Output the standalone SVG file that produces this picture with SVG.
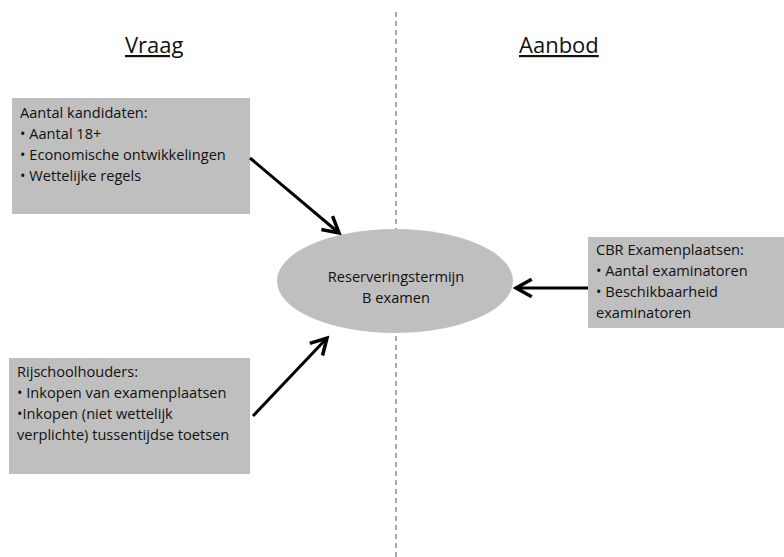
<svg xmlns="http://www.w3.org/2000/svg" width="784" height="557" viewBox="0 0 784 557">
<defs>
<style>
.box{fill:#bfbfbf;}
.t{font-family:"Open Sans","Noto Sans",sans-serif;font-size:14.6px;fill:#111;}
.h{font-family:"Open Sans","Noto Sans",sans-serif;font-size:22px;fill:#111;text-decoration:underline;}
.c{stroke:#000;stroke-width:3;fill:none;marker-end:url(#ah);}
</style>
<marker id="ah" viewBox="0 0 12 12" refX="10" refY="6" markerWidth="7" markerHeight="7" orient="auto" markerUnits="strokeWidth">
<path d="M1,1 L10,6 L1,11" fill="none" stroke="#000" stroke-width="2"/>
</marker>
</defs>
<rect width="784" height="557" fill="#fff"/>
<line x1="396" y1="12" x2="396" y2="557" stroke="#555" stroke-width="1" stroke-dasharray="5,4"/>
<g id="title-vraag"><text class="h" x="125" y="53">Vraag</text></g>
<g id="title-aanbod"><text class="h" x="519" y="53">Aanbod</text></g>
<g id="node-kandidaten">
<rect class="box" x="12" y="98" width="238" height="116"/>
<text class="t" x="20" y="118">Aantal kandidaten:</text>
<text class="t" x="20" y="139">• Aantal 18+</text>
<text class="t" x="20" y="160">• Economische ontwikkelingen</text>
<text class="t" x="20" y="181">• Wettelijke regels</text>
</g>
<g id="node-rijschool">
<rect class="box" x="9" y="358" width="241" height="116"/>
<text class="t" x="17" y="377">Rijschoolhouders:</text>
<text class="t" x="17" y="398">• Inkopen van examenplaatsen</text>
<text class="t" x="17" y="419">•Inkopen (niet wettelijk</text>
<text class="t" x="17" y="440">verplichte) tussentijdse toetsen</text>
</g>
<g id="node-cbr">
<rect class="box" x="588" y="237" width="196" height="91"/>
<text class="t" x="596" y="255">CBR Examenplaatsen:</text>
<text class="t" x="596" y="276">• Aantal examinatoren</text>
<text class="t" x="596" y="297">• Beschikbaarheid</text>
<text class="t" x="596" y="318">examinatoren</text>
</g>
<g id="node-center">
<ellipse cx="395" cy="281" rx="118" ry="52" fill="#bfbfbf"/>
<text class="t" x="396" y="282" text-anchor="middle">Reserveringstermijn</text>
<text class="t" x="396" y="303" text-anchor="middle">B examen</text>
</g>
<g id="connectors">
<line class="c" x1="250" y1="158" x2="339" y2="233"/>
<line class="c" x1="253" y1="416" x2="327" y2="338"/>
<line class="c" x1="588" y1="288" x2="516" y2="288"/>
</g>
</svg>
